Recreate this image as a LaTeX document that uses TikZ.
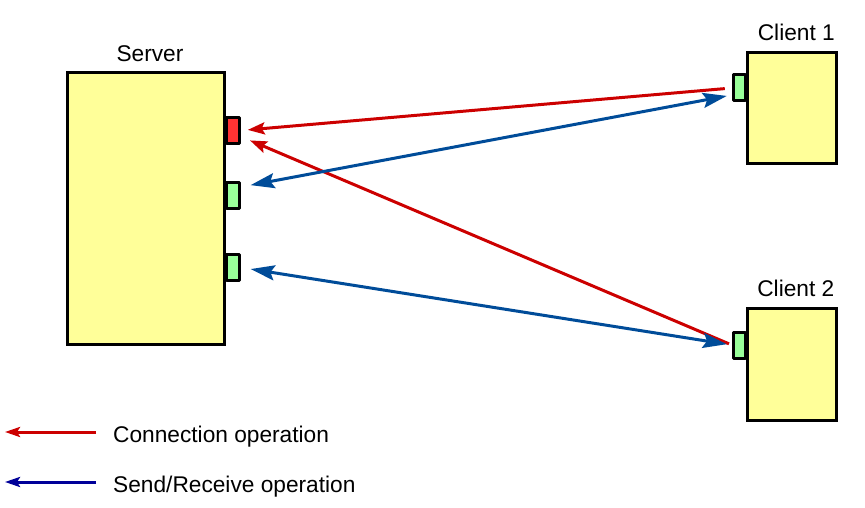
\documentclass[tikz,border=0pt]{standalone}
\usepackage{fontspec}
\setmainfont{Liberation Sans}
\usetikzlibrary{positioning, arrows.meta}
\definecolor{boxyellow}{RGB}{255,255,153}
\definecolor{portgreen}{RGB}{153,255,153}
\definecolor{portred}{RGB}{255,51,51}
\definecolor{connred}{RGB}{204,0,0}
\definecolor{datablue}{RGB}{0,76,153}
\definecolor{legendblue}{RGB}{0,0,153}
\tikzstyle{machine} = [rectangle, draw=black, line width=3pt, fill=boxyellow, inner sep=0pt]
\tikzstyle{port} = [rectangle, draw=black, line width=3pt, line join=round, minimum width=12.5pt, minimum height=26pt, inner sep=0pt]
\tikzstyle{caption} = [inner sep=3pt, font=\fontsize{22.7pt}{27pt}\selectfont]
\tikzstyle{connarrow} = [line width=3pt, color=connred, -{Stealth[length=17pt,width=12pt,inset=3pt]}]
\tikzstyle{dataarrow} = [line width=3pt, color=datablue, {Stealth[length=24pt,width=15pt,inset=4pt]}-{Stealth[length=24pt,width=15pt,inset=4pt]}]
\tikzstyle{legendarrow} = [line width=3pt, -{Stealth[length=15pt,width=10pt,inset=3pt]}]

\begin{document}
\begin{tikzpicture}[x=1pt, y=-1pt]

    \useasboundingbox (0,0) rectangle (865,508);

    \node (server)  [machine, minimum width=157pt, minimum height=272pt] at (146,208.5) {};
    \node (client1) [machine, minimum width=89pt, minimum height=111pt]  at (792,108)   {};
    \node (client2) [machine, minimum width=89pt, minimum height=112pt]  at (791.5,364.5) {};

    \node (connport)  [port, fill=portred]   at (233,130.5) {};
    \node (dataport1) [port, fill=portgreen] at (233,195.5) {};
    \node (dataport2) [port, fill=portgreen] at (233,267.5) {};
    \node (c1port)    [port, fill=portgreen] at (739.5,88)  {};
    \node (c2port)    [port, fill=portgreen] at (739.5,345) {};

    \node (serverlabel)  [caption, above=6pt of server, xshift=4pt] {Server};
    \node (client1label) [caption, above=7pt of client1.north east, anchor=south east] {Client 1};
    \node (client2label) [caption, above=7pt of client2.north east, anchor=south east] {Client 2};

    \draw [connarrow, shorten <=7pt, shorten >=7pt] (c1port.west) -- (connport.east);
    \draw [connarrow, shorten <=3pt, shorten >=10pt] (c2port.west) -- ([yshift=-6pt]connport.east);
    \draw [dataarrow, shorten <=10pt, shorten >=5pt] ([yshift=8.5pt]dataport1.east) -- ([yshift=-7pt]c1port.west);
    \draw [dataarrow, shorten <=10pt, shorten >=5pt] (dataport2.east) -- (c2port.west);

    % legend
    \coordinate (connfrom) at (96,432);
    \coordinate (connto)   at (5,432);
    \coordinate (datafrom) at (96,482);
    \coordinate (datato)   at (5,482);
    \draw [legendarrow, color=connred]    (connfrom) -- (connto);
    \draw [legendarrow, color=legendblue] (datafrom) -- (datato);
    \node (connlabel) [caption, anchor=base west] at (110,442) {Connection operation};
    \node (datalabel) [caption, anchor=base west] at (110,492) {Send/Receive operation};

\end{tikzpicture}
\end{document}
